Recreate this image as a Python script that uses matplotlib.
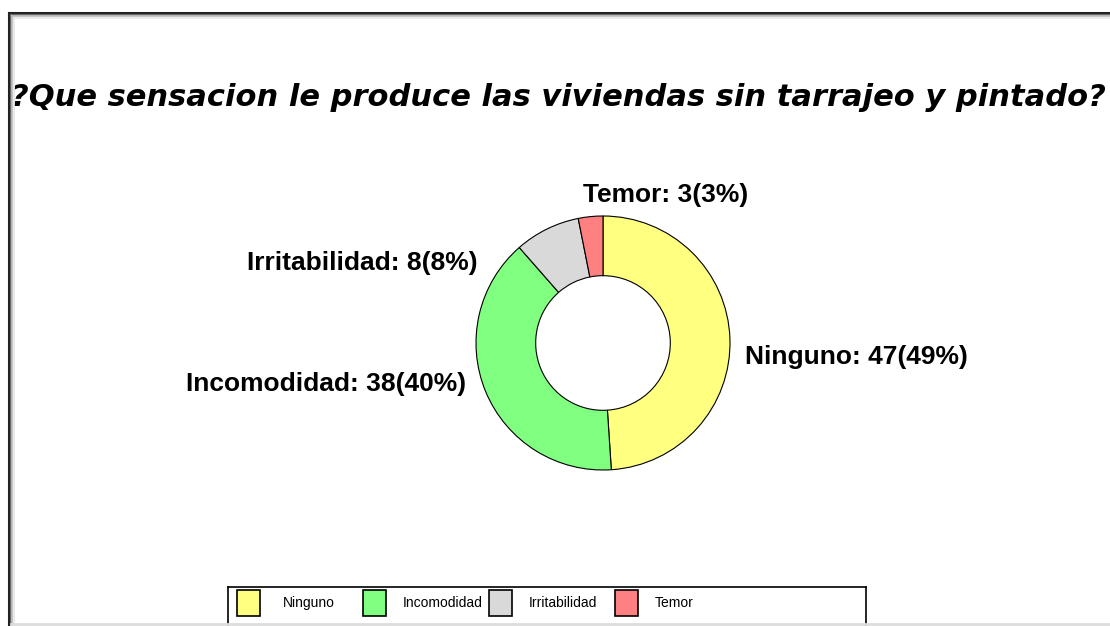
import matplotlib.pyplot as plt
from matplotlib.patches import Rectangle
from matplotlib.lines import Line2D

categorias = ['Ninguno', 'Incomodidad', 'Irritabilidad', 'Temor']
valores = [47, 38, 8, 3]
porcentajes = [49, 40, 8, 3]
colores = ['#FFFF80', '#80FF80', '#D9D9D9', '#FF8080']

W, H = 1110, 626
fig = plt.figure(figsize=(W / 100, H / 100), dpi=100)
ax = fig.add_axes([0, 0, 1, 1])

cx, cy, r = 603, H - 343, 127
ax.pie(valores, colors=colores, startangle=90, counterclock=False,
       center=(cx, cy), radius=r,
       wedgeprops=dict(width=r * 0.47, edgecolor='black', linewidth=0.8))
ax.set_xlim(0, W)
ax.set_ylim(0, H)
ax.set_aspect('equal')
ax.axis('off')

# etiquetas
lab = dict(fontsize=19, fontweight='bold', family='Liberation Sans', va='center')
pos = {'Ninguno': (745, 357, 'left'), 'Incomodidad': (466, 384, 'right'),
       'Irritabilidad': (478, 263, 'right'), 'Temor': (583, 195, 'left')}
for c, v, p in zip(categorias, valores, porcentajes):
    x, y, ha = pos[c]
    ax.text(x, H - y, f'{c}: {v}({p}%)', ha=ha, **lab)

ax.text(558, H - 97, '?Que sensacion le produce las viviendas sin tarrajeo y pintado?',
        ha='center', va='center', fontsize=22, fontweight='heavy', style='italic',
        family='DejaVu Sans', zorder=5)

# marco con sombra suave
tf = fig.transFigure
for i, c in enumerate(['#222222', '#777777', '#bbbbbb', '#e6e6e6']):
    lw = 2.2 if i == 0 else 1.2
    fig.add_artist(Line2D([(9 + i * 1.6) / W] * 2, [0, 1 - (13 + i * 1.6) / H], color=c,
                          lw=lw, transform=tf, zorder=1))
    fig.add_artist(Line2D([(9 + i * 1.6) / W, 1], [1 - (13 + i * 1.6) / H] * 2, color=c,
                          lw=lw, transform=tf, zorder=1))
fig.add_artist(Line2D([11 / W, 1], [2 / H, 2 / H], color='#dddddd', lw=2, transform=tf))

# leyenda con columnas iguales
lx0, lx1, ly_top = 228, 866, 587
lh = H - ly_top + 6
lax = fig.add_axes([lx0 / W, -6 / H, (lx1 - lx0) / W, lh / H])
lax.set_xlim(0, lx1 - lx0)
lax.set_ylim(0, lh)
lax.set_xticks([])
lax.set_yticks([])
for s in lax.spines.values():
    s.set_linewidth(1.2)
ymid = lh - 16
for i, (c, col) in enumerate(zip(categorias, colores)):
    x = 9 + i * 126
    lax.add_patch(Rectangle((x, ymid - 13), 23, 26, facecolor=col, edgecolor='black', lw=1.2))
    lax.text(x + (46 if i == 0 else 40), ymid, c, va='center', ha='left', fontsize=10,
             family='Liberation Sans')

fig.savefig('out.png', dpi=100)
